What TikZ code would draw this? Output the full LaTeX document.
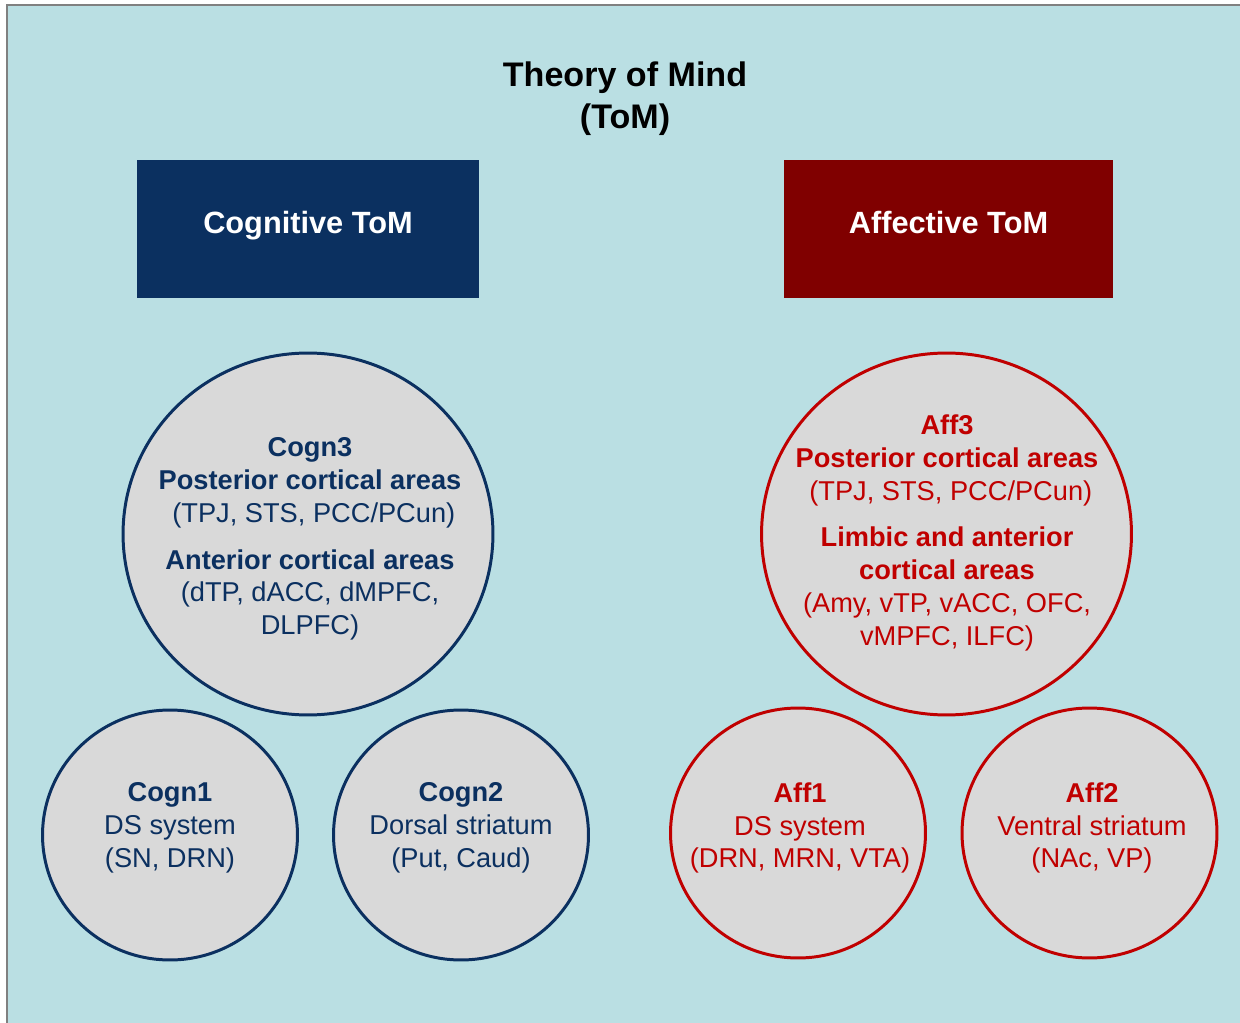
\documentclass[tikz,border=0pt]{standalone}
\usepackage{fontspec}
\setmainfont{Liberation Sans}
\usetikzlibrary{shapes.geometric,positioning}
\definecolor{bgblue}{HTML}{BADFE3}
\definecolor{cognblue}{HTML}{0B3060}
\definecolor{affdark}{HTML}{800000}
\definecolor{affred}{HTML}{C00000}
\definecolor{areagray}{HTML}{D9D9D9}
\tikzset{
	tombox/.style={minimum width=6.84cm, minimum height=2.78cm, inner sep=0pt, text height=10pt, text depth=4.9pt, text=white, font=\fontsize{17.5}{21}\selectfont\bfseries},
	area/.style={ellipse, fill=areagray, line width=1.7pt, inner sep=0pt},
	bigarea/.style={area, minimum width=7.4cm, minimum height=7.24cm},
	smallarea/.style={area, minimum width=5.1cm, minimum height=5cm},
	areatext/.style={align=center, inner sep=0pt, font=\fontsize{15.5}{18.7}\selectfont},
}

\begin{document}
\begin{tikzpicture}[x=0.02cm, y=-0.02cm]
		%Background
		\useasboundingbox (0,0) rectangle (1240,1023);
		\fill [white] (0,0) rectangle (1240,1023);
		\fill [bgblue] (7,5) rectangle (1240,1023);
		\draw [gray, line width=0.8pt] (7,1023) -- (7,5) -- (1240,5);
		%Title
		\node [align=center, inner sep=0pt, font=\fontsize{19.4}{23.8}\selectfont\bfseries] (title) at (625,99) {Theory of Mind\\(ToM)};
		%Boxes
		\node [tombox, fill=cognblue] (cogn) at (308,229) {Cognitive ToM};
		\node [tombox, fill=affdark, minimum width=6.58cm] (aff) at (948.5,229) {Affective ToM};
		%Circles
		\node [bigarea, draw=cognblue] (cogn3) at (308,534) {};
		\node [smallarea, draw=cognblue] (cogn1) at (170,835) {};
		\node [smallarea, draw=cognblue] (cogn2) at (461,835) {};
		\node [bigarea, draw=affred] (aff3) at (946.5,534) {};
		\node [smallarea, draw=affred] (aff1) at (798,833) {};
		\node [smallarea, draw=affred] (aff2) at (1089.5,833) {};
		%Labels
		\node [areatext, text=cognblue] (cogn3txt) at (310,539) {\textbf{Cogn3}\\\textbf{Posterior cortical areas}\\\ (TPJ, STS, PCC/PCun)\\[7.9pt]\textbf{Anterior cortical areas}\\(dTP, dACC, dMPFC,\\DLPFC)};
		\node [areatext, text=cognblue] (cogn1txt) at (170,828) {\textbf{Cogn1}\\DS system\\(SN, DRN)};
		\node [areatext, text=cognblue] (cogn2txt) at (461,828) {\textbf{Cogn2}\\Dorsal striatum\\(Put, Caud)};
		\node [areatext, text=affred] (aff3txt) at (947,533) {\textbf{Aff3}\\\textbf{Posterior cortical areas}\\\ (TPJ, STS, PCC/PCun)\\[7.9pt]\textbf{Limbic and anterior}\\\textbf{cortical areas}\\(Amy, vTP, vACC, OFC,\\vMPFC, ILFC)};
		\node [areatext, text=affred] (aff1txt) at (800,828) {\textbf{Aff1}\\DS system\\(DRN, MRN, VTA)};
		\node [areatext, text=affred] (aff2txt) at (1092,828) {\textbf{Aff2}\\Ventral striatum\\(NAc, VP)};
\end{tikzpicture}
\end{document}
